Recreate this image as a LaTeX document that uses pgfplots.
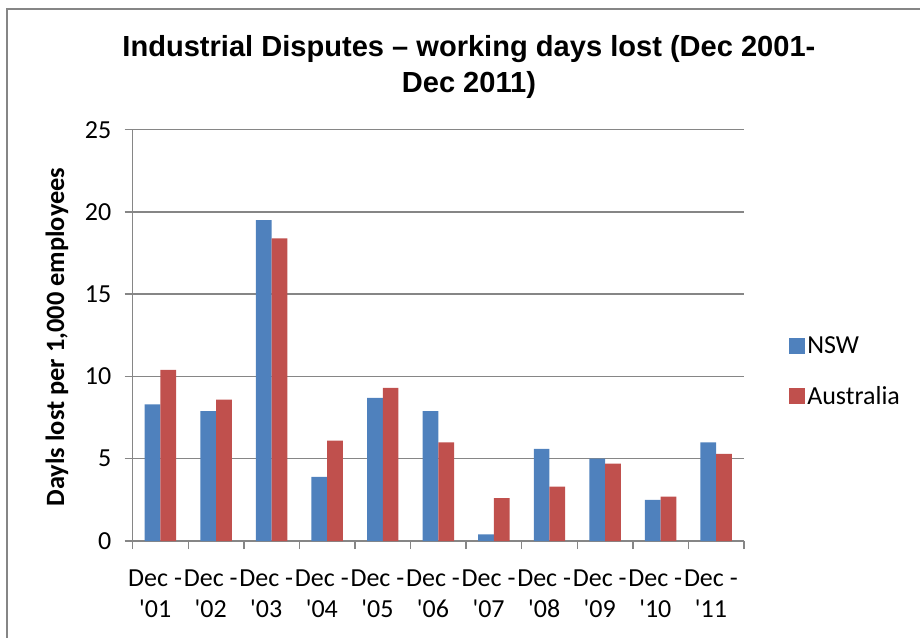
\documentclass[border=0pt]{standalone}
\usepackage{pgfplots}
\pgfplotsset{compat=1.18}
\usepackage{fontspec}
\setmainfont{Carlito}
\newfontfamily\titlefont{Liberation Sans}

\definecolor{nswblue}{HTML}{4F81BD}
\definecolor{ausred}{HTML}{C0504D}
\definecolor{axgray}{HTML}{868686}

\newcommand{\yr}[1]{Dec -\\\textquotesingle#1}

\begin{document}
\begin{tikzpicture}
% picture size: 920 x 637 px at 0.75pt per px
\path[use as bounding box] (-99.5pt,-72pt) rectangle (590.5pt,405.75pt);
% outer chart frame (only left and top edges visible)
\draw[axgray, line width=1.5pt] (-94.3pt,-73pt) -- (-94.3pt,399pt) -- (591pt,399pt);

\begin{axis}[
    at={(0pt,0pt)}, anchor=south west,
    scale only axis,
    width=458.5pt, height=308.5pt,
    ybar=0pt, bar width=11.8pt,
    xmin=-0.5, xmax=10.5,
    ymin=0, ymax=25,
    ytick={0,5,...,25},
    xtick={-0.5,0.5,...,10.5},
    xticklabels={},
    extra x ticks={0,1,...,10},
    extra x tick labels={\yr{01},\yr{02},\yr{03},\yr{04},\yr{05},\yr{06},\yr{07},\yr{08},\yr{09},\yr{10},\yr{11}},
    extra x tick style={major tick length=0pt},
    xticklabel style={align=center, font=\fontsize{19.5}{23}\selectfont, xshift=-4pt, yshift=-18pt},
    yticklabel style={font=\fontsize{19.5}{24}\selectfont, xshift=-6.5pt},
    /pgf/number format/assume math mode=true,
    axis x line*=bottom, axis y line*=left,
    axis line style={axgray, line width=1.1pt},
    tick style={axgray, line width=1.1pt},
    tick align=outside, major tick length=6pt,
    ymajorgrids=true,
    grid style={axgray, line width=1.1pt},
    legend style={at={(1.066,0.51)}, anchor=north west, draw=none,
        font=\fontsize{19.5}{23}\selectfont, row sep=19pt,
        legend cell align=left},
    legend image code/.code={\fill[#1] (-2.5pt,-6pt) rectangle (9.5pt,6pt);},
]
\addplot[fill=nswblue, draw=none] coordinates {
    (0,8.3)(1,7.9)(2,19.5)(3,3.9)(4,8.7)(5,7.9)(6,0.4)(7,5.6)(8,5.0)(9,2.5)(10,6.0)
};
\addplot[fill=ausred, draw=none] coordinates {
    (0,10.4)(1,8.6)(2,18.4)(3,6.1)(4,9.3)(5,6.0)(6,2.6)(7,3.3)(8,4.7)(9,2.7)(10,5.3)
};
\legend{NSW,Australia}
\end{axis}

\node[font=\fontsize{19.8}{22}\selectfont\bfseries, rotate=90] at (-56.8pt,153pt)
    {Dayls lost per 1,000 employees};
\node[font=\titlefont\bfseries\fontsize{21.8}{27}\selectfont, anchor=base] at (252.2pt,363.75pt)
    {Industrial Disputes – working days lost (Dec 2001-};
\node[font=\titlefont\bfseries\fontsize{21.8}{27}\selectfont, anchor=base] at (252.2pt,336.75pt)
    {Dec 2011)};
\end{tikzpicture}
\end{document}
